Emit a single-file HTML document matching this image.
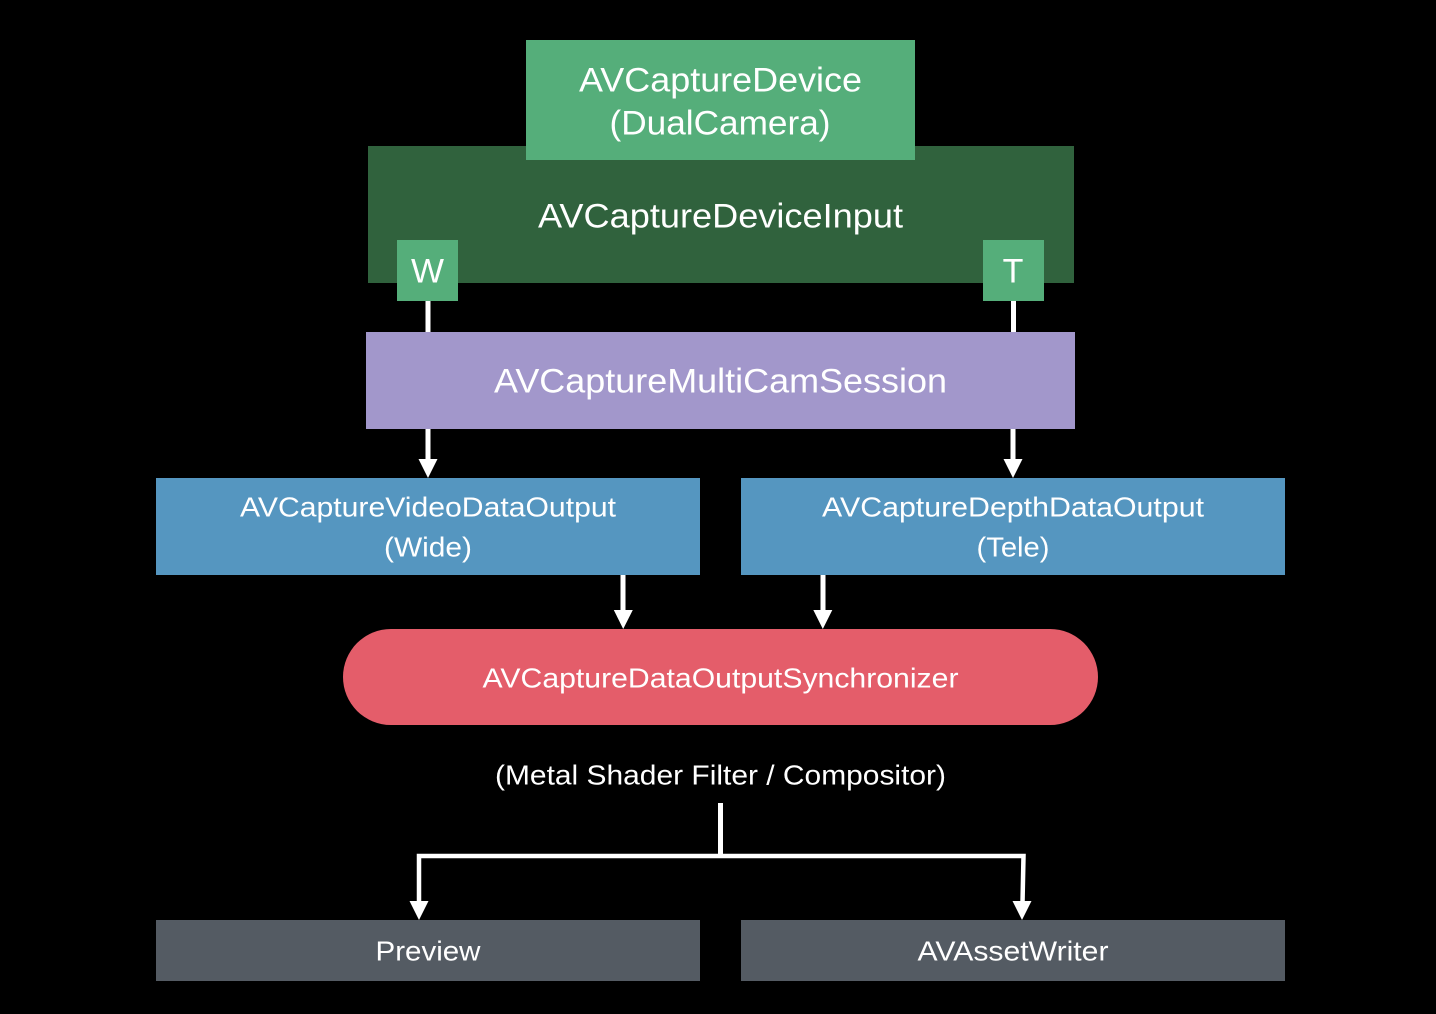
<!DOCTYPE html>
<html><head><meta charset="utf-8"><style>
html,body{margin:0;padding:0;background:#000;width:1436px;height:1014px;overflow:hidden}
svg{display:block}
text{font-family:"Liberation Sans",sans-serif;fill:#fff;text-anchor:middle}
</style></head><body>
<svg width="1436" height="1014" viewBox="0 0 1436 1014" xmlns="http://www.w3.org/2000/svg">
<rect width="1436" height="1014" fill="#000"/>
<rect x="368" y="146" width="706" height="137" fill="#30623d"/>
<rect x="526" y="40" width="389" height="120" fill="#55ae7a"/>
<rect x="397" y="240" width="61" height="61" fill="#55ae7a"/>
<rect x="983" y="240" width="61" height="61" fill="#55ae7a"/>
<rect x="366" y="332" width="709" height="97" fill="#a297cb"/>
<rect x="156" y="478" width="544" height="97" fill="#5596c0"/>
<rect x="741" y="478" width="544" height="97" fill="#5596c0"/>
<rect x="343" y="629" width="755" height="96" rx="48" fill="#e45d6a"/>
<rect x="156" y="920" width="544" height="61" fill="#545b63"/>
<rect x="741" y="920" width="544" height="61" fill="#545b63"/>

<g fill="#fff">
<rect x="425.5" y="301" width="5" height="31"/>
<rect x="1011" y="301" width="5" height="31"/>
<rect x="425.5" y="429" width="5" height="32"/><polygon points="418.5,459 437.5,459 428,478"/>
<rect x="1010.5" y="429" width="5" height="32"/><polygon points="1003.5,459 1022.5,459 1013,478"/>
<rect x="620.5" y="575" width="5" height="37"/><polygon points="613.8,610 632.8,610 623.2,629"/>
<rect x="820.5" y="575" width="5" height="37"/><polygon points="813.3,610 832.3,610 822.8,629"/>
<rect x="718" y="803" width="5" height="53"/>
<polygon points="409.5,901 428.5,901 419,920"/>
<polygon points="1012.5,901 1031.5,901 1022,920"/>
</g>
<path d="M419 903V856H1023.5L1022.5 903" fill="none" stroke="#fff" stroke-width="4.5"/>

<text x="720.5" y="91.5" font-size="34" textLength="283" lengthAdjust="spacingAndGlyphs">AVCaptureDevice</text>
<text x="720" y="134.5" font-size="34" textLength="221" lengthAdjust="spacingAndGlyphs">(DualCamera)</text>
<text x="720.5" y="227.5" font-size="34" textLength="365" lengthAdjust="spacingAndGlyphs">AVCaptureDeviceInput</text>
<text x="427.5" y="282.5" font-size="34" textLength="33" lengthAdjust="spacingAndGlyphs">W</text>
<text x="1013" y="282.5" font-size="34">T</text>
<text x="720.5" y="392.5" font-size="34" textLength="453" lengthAdjust="spacingAndGlyphs">AVCaptureMultiCamSession</text>
<text x="428" y="516.5" font-size="28" textLength="376" lengthAdjust="spacingAndGlyphs">AVCaptureVideoDataOutput</text>
<text x="428" y="556.5" font-size="28" textLength="88" lengthAdjust="spacingAndGlyphs">(Wide)</text>
<text x="1013" y="516.5" font-size="28" textLength="382" lengthAdjust="spacingAndGlyphs">AVCaptureDepthDataOutput</text>
<text x="1013" y="556.5" font-size="28" textLength="73" lengthAdjust="spacingAndGlyphs">(Tele)</text>
<text x="720.5" y="687.5" font-size="28" textLength="476" lengthAdjust="spacingAndGlyphs">AVCaptureDataOutputSynchronizer</text>
<text x="720.5" y="784.5" font-size="28" textLength="451" lengthAdjust="spacingAndGlyphs">(Metal Shader Filter / Compositor)</text>
<text x="428" y="960.5" font-size="28" textLength="105" lengthAdjust="spacingAndGlyphs">Preview</text>
<text x="1013" y="960.5" font-size="28" textLength="191" lengthAdjust="spacingAndGlyphs">AVAssetWriter</text>
</svg>
</body></html>
